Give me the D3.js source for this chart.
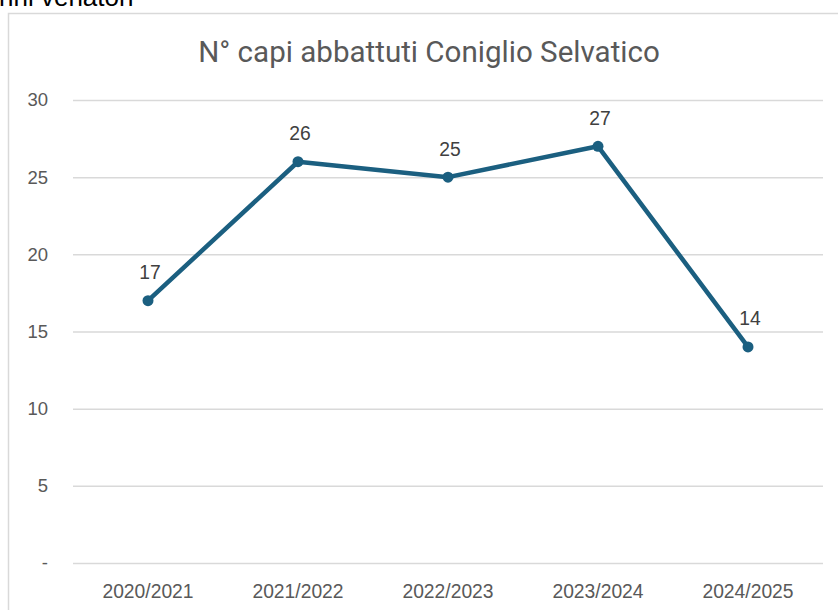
<!DOCTYPE html>
<html>
<head>
<meta charset="utf-8">
<script src="https://cdn.jsdelivr.net/npm/d3@7"></script>
<style>
  html, body { margin: 0; padding: 0; background: #fff; overflow: hidden; }
  svg { display: block; }
</style>
</head>
<body>
<svg id="chart" width="838" height="610"></svg>
<script>
// Stagioni venatorie e capi abbattuti
const seasons = ["2020/2021", "2021/2022", "2022/2023", "2023/2024", "2024/2025"];
const captures = [17, 26, 25, 27, 14];
const yTicks = [0, 5, 10, 15, 20, 25, 30];
const yTickLabels = ["-", "5", "10", "15", "20", "25", "30"];
const chartTitle = "N° capi abbattuti Coniglio Selvatico";
const headingText = "nni venatori";

const svg = d3.select("#chart");
const W = 838, H = 610;
const plot = { left: 73, right: 823, top: 100, bottom: 563 };
const labelFont = "Liberation Sans, Arial, sans-serif";

// heading above the chart frame (runs off the top edge)
svg.append("text")
  .attr("x", -1).attr("y", 6)
  .attr("font-family", labelFont)
  .attr("font-size", 26)
  .attr("fill", "#000")
  .text(headingText);

// chart frame
svg.append("rect")
  .attr("x", 8.5).attr("y", 13.5)
  .attr("width", W + 20).attr("height", H + 20)
  .attr("fill", "#fff")
  .attr("stroke", "#d9d9d9")
  .attr("stroke-width", 1.5);

const x = d3.scaleBand().domain(seasons).range([plot.left, plot.right]);
const y = d3.scaleLinear().domain([0, 30]).range([plot.bottom, plot.top]);

// title, sized to span 462px
const title = svg.append("text")
  .attr("x", 429).attr("y", 62)
  .attr("text-anchor", "middle")
  .attr("font-family", "Roboto, sans-serif")
  .attr("font-size", 28)
  .attr("fill", "#595959")
  .text(chartTitle);
const tw = title.node().getComputedTextLength();
title.attr("font-size", 28 * 462 / tw);

// gridlines + y labels
const yAxis = d3.axisLeft(y)
  .tickValues(yTicks)
  .tickSize(-(plot.right - plot.left))
  .tickPadding(25)
  .tickFormat((d, i) => yTickLabels[i]);
const gy = svg.append("g")
  .attr("transform", `translate(${plot.left},0)`)
  .call(yAxis);
gy.select(".domain").remove();
gy.selectAll(".tick line").attr("stroke", "#d9d9d9").attr("stroke-width", 1.5);
gy.selectAll(".tick text")
  .attr("font-family", labelFont)
  .attr("font-size", 18.5)
  .attr("fill", "#595959");

// x labels
const xAxis = d3.axisBottom(x).tickSize(0).tickPadding(21);
const gx = svg.append("g")
  .attr("transform", `translate(0,${plot.bottom})`)
  .call(xAxis);
gx.select(".domain").remove();
gx.selectAll(".tick text")
  .attr("font-family", labelFont)
  .attr("font-size", 19.3)
  .attr("fill", "#595959");

const cx = d => x(d) + x.bandwidth() / 2;
const lineColor = "#1b5f80";

svg.append("path")
  .datum(seasons.map((s, i) => [cx(s), y(captures[i])]))
  .attr("d", d3.line())
  .attr("fill", "none")
  .attr("stroke", lineColor)
  .attr("stroke-width", 4.5)
  .attr("stroke-linejoin", "round");

svg.selectAll("circle.pt")
  .data(captures)
  .join("circle")
  .attr("class", "pt")
  .attr("cx", (d, i) => cx(seasons[i]))
  .attr("cy", d => y(d))
  .attr("r", 5.5)
  .attr("fill", lineColor);

svg.selectAll("text.lbl")
  .data(captures)
  .join("text")
  .attr("class", "lbl")
  .attr("x", (d, i) => cx(seasons[i]) + 2)
  .attr("y", d => y(d) - 21.5)
  .attr("text-anchor", "middle")
  .attr("font-family", labelFont)
  .attr("font-size", 19.3)
  .attr("fill", "#404040")
  .text(d => d);
</script>
</body>
</html>
